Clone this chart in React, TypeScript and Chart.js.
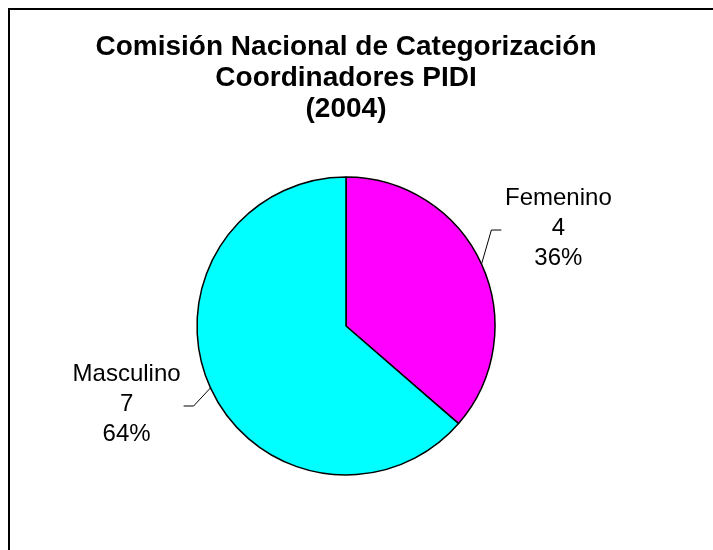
import React, { useEffect, useRef } from "react";
import { Chart, registerables } from "chart.js";

Chart.register(...registerables);

const titleLines = ["Comisión Nacional de Categorización", "Coordinadores PIDI", "(2004)"];
const categories = ["Femenino", "Masculino"];
const values = [4, 7];
const sliceColors = ["#FF00FF", "#00FFFF"];

const FONT = "'Liberation Sans', Arial, Helvetica, sans-serif";

const frameAndLabels = {
  id: "frameAndLabels",
  afterDatasetsDraw(chart: any, _args: any, opts: any) {
    const ctx = chart.ctx;
    const meta = chart.getDatasetMeta(0);
    const data = chart.data.datasets[0].data as number[];
    const total = data.reduce((a, b) => a + b, 0);
    const offsets: number[][] = opts.offsets || [];
    ctx.save();
    meta.data.forEach((arc: any, i: number) => {
      const p = arc.getProps(["x", "y", "startAngle", "endAngle", "outerRadius"], true);
      const mid = (p.startAngle + p.endAngle) / 2;
      const cos = Math.cos(mid);
      const sin = Math.sin(mid);
      const off = offsets[i] || [0, 0];
      const lx = p.x + (p.outerRadius + opts.labelGap) * cos + off[0];
      const ly = p.y + (p.outerRadius + opts.labelGap) * sin + off[1];
      const right = cos >= 0;
      // leader line
      const sx = p.x + p.outerRadius * cos;
      const sy = p.y + p.outerRadius * sin;
      const ey = ly + 2;
      const endX = right ? lx - 57 : lx + 57;
      const elbowX = right ? endX - 10 : endX + 10;
      ctx.strokeStyle = "#000";
      ctx.lineWidth = 1;
      ctx.beginPath();
      ctx.moveTo(sx, sy);
      ctx.lineTo(elbowX, ey);
      ctx.lineTo(endX, ey);
      ctx.stroke();
      // text
      const pct = Math.round((data[i] / total) * 100) + "%";
      const lines = [chart.data.labels[i], String(data[i]), pct];
      ctx.fillStyle = "#000";
      ctx.font = `${opts.fontSize}px ${FONT}`;
      ctx.textAlign = "center";
      ctx.textBaseline = "middle";
      lines.forEach((t: string, k: number) => {
        ctx.fillText(t, lx, ly + (k - 1) * opts.lineGap);
      });
    });
    // frame (border of the chart object)
    ctx.strokeStyle = "#000";
    ctx.lineWidth = 2;
    ctx.beginPath();
    ctx.moveTo(9, chart.height);
    ctx.lineTo(9, 9);
    ctx.lineTo(chart.width, 9);
    ctx.stroke();
    ctx.restore();
  },
};

export default function App() {
  const ref = useRef<HTMLCanvasElement | null>(null);
  useEffect(() => {
    if (!ref.current) return;
    const chart = new Chart(ref.current, {
      type: "pie",
      data: {
        labels: categories,
        datasets: [
          {
            data: values,
            backgroundColor: sliceColors,
            borderColor: "#000",
            borderWidth: 1.5,
          },
        ],
      },
      options: {
        animation: false,
        responsive: false,
        maintainAspectRatio: false,
        layout: { padding: { left: 0, right: 21, top: 0, bottom: 74.25 } },
        plugins: {
          legend: { display: false },
          tooltip: { enabled: false },
          title: {
            display: true,
            text: titleLines,
            color: "#000",
            font: { family: FONT, size: 28, weight: "bold", lineHeight: 1.12 },
            padding: { top: 31.3, bottom: 50.9 },
          },
          frameAndLabels: {
            labelGap: 84.5,
            lineGap: 30,
            fontSize: 24,
            offsets: [
              [0, -1],
              [-7, -19],
            ],
          },
        } as any,
      },
      plugins: [frameAndLabels],
    });
    return () => chart.destroy();
  }, []);
  return (
    <div style={{ position: "fixed", left: 0, top: 0, width: 713, height: 550, background: "#fff" }}>
      <canvas ref={ref} width={713} height={550} style={{ display: "block" }} />
    </div>
  );
}
